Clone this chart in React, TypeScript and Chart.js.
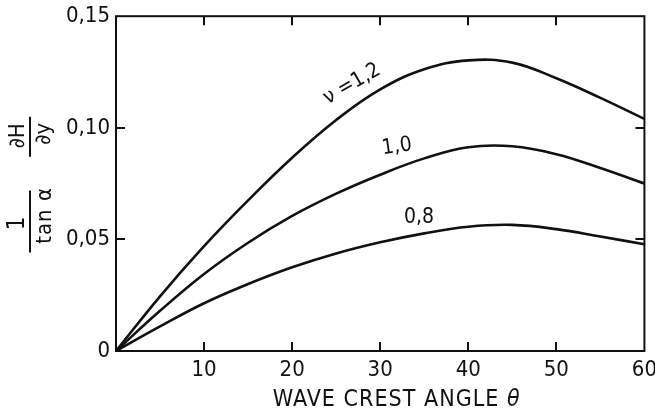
import React, { useEffect, useRef } from 'react';
import { Chart, registerables } from 'chart.js';

Chart.register(...registerables);

const angles = [0, 5, 10, 15, 20, 25, 30, 35, 40, 45, 50, 55, 60];
const nu12 = [0, 0.0245, 0.047, 0.0675, 0.0866, 0.1035, 0.1172, 0.1262, 0.1302, 0.1292, 0.1222, 0.1134, 0.104];
const nu10 = [0, 0.018, 0.0345, 0.0485, 0.0605, 0.0705, 0.079, 0.0863, 0.0913, 0.0917, 0.0882, 0.082, 0.075];
const nu08 = [0, 0.011, 0.0214, 0.03, 0.0375, 0.0437, 0.0487, 0.0527, 0.0557, 0.0565, 0.0546, 0.0513, 0.0478];

const xTicks = [0, 10, 20, 30, 40, 50, 60];
const xTickLabels = ['', '10', '20', '30', '40', '50', '60'];
const yTicks = [0, 0.05, 0.1, 0.15];
const yTickLabels = ['0', '0,05', '0,10', '0,15'];

const curveLabels = ['ν =1,2', '1,0', '0,8'];
const curveLabelX = [26.8, 31.9, 34.4];
const curveLabelY = [0.1196, 0.0915, 0.0598];
const curveLabelRot = [-30, -8, 0];

const xTitle = 'WAVE CREST ANGLE';
const xTitleSymbol = 'θ';

const FONT = '"Liberation Sans Narrow", "DejaVu Sans Condensed", "Roboto Condensed", sans-serif';
const INK = '#111';

const decor = {
  id: 'decor',
  afterDraw(chart: any) {
    const { ctx, chartArea: a, scales } = chart;
    const x = scales.x;
    const y = scales.y;
    ctx.save();
    ctx.strokeStyle = INK;
    ctx.fillStyle = INK;
    ctx.lineWidth = 2;
    ctx.strokeRect(a.left, a.top, a.right - a.left, a.bottom - a.top);
    const tl = 9;
    ctx.beginPath();
    xTicks.slice(1, -1).forEach((v) => {
      const px = Math.round(x.getPixelForValue(v));
      ctx.moveTo(px, a.bottom);
      ctx.lineTo(px, a.bottom - tl);
      ctx.moveTo(px, a.top);
      ctx.lineTo(px, a.top + tl);
    });
    yTicks.slice(1, -1).forEach((v) => {
      const py = Math.round(y.getPixelForValue(v));
      ctx.moveTo(a.left, py);
      ctx.lineTo(a.left + tl, py);
      ctx.moveTo(a.right, py);
      ctx.lineTo(a.right - tl, py);
    });
    ctx.stroke();

    // curve labels
    ctx.font = `21px ${FONT}`;
    ctx.textAlign = 'center';
    ctx.textBaseline = 'middle';
    curveLabels.forEach((t, i) => {
      const px = x.getPixelForValue(curveLabelX[i]);
      const py = y.getPixelForValue(curveLabelY[i]);
      ctx.save();
      ctx.translate(px, py);
      ctx.rotate((curveLabelRot[i] * Math.PI) / 180);
      ctx.fillText(t, 0, 0);
      ctx.restore();
    });

    // x title, spread to the width of the original lettering
    const targetW = 247;
    ctx.font = `23px ${FONT}`;
    (ctx as any).letterSpacing = '0px';
    const m1 = ctx.measureText(xTitle + ' ').width;
    ctx.font = `italic 23px ${FONT}`;
    const m2 = ctx.measureText(xTitleSymbol).width;
    const nChars = (xTitle + ' ').length;
    const sp = Math.max(0, (targetW - m1 - m2) / nChars);
    const w1 = m1 + sp * nChars;
    const cx = (a.left + a.right) / 2 + 16;
    const ty = a.bottom + 49;
    const startX = cx - targetW / 2;
    ctx.textAlign = 'left';
    ctx.font = `23px ${FONT}`;
    (ctx as any).letterSpacing = `${sp}px`;
    ctx.fillText(xTitle + ' ', startX, ty);
    (ctx as any).letterSpacing = '0px';
    ctx.font = `italic 23px ${FONT}`;
    ctx.fillText(xTitleSymbol, startX + w1, ty);

    // y title: two fractions, rotated
    ctx.font = `22px ${FONT}`;
    ctx.textAlign = 'center';
    ctx.lineWidth = 2;
    const barX = a.left - 86;
    const drawRot = (t: string, px: number, py: number) => {
      ctx.save();
      ctx.translate(px, py);
      ctx.rotate(-Math.PI / 2);
      ctx.fillText(t, 0, 0);
      ctx.restore();
    };
    // ∂H / ∂y
    const f1 = y.getPixelForValue(0.1) + 9;
    ctx.beginPath();
    ctx.moveTo(barX, f1 - 20);
    ctx.lineTo(barX, f1 + 20);
    ctx.stroke();
    drawRot('∂H', barX - 12, f1 - 1);
    drawRot('∂y', barX + 14, f1 - 3);
    // 1 / tan α
    const f2 = y.getPixelForValue(0.05) - 18;
    ctx.beginPath();
    ctx.moveTo(barX, f2 - 31);
    ctx.lineTo(barX, f2 + 31);
    ctx.stroke();
    ctx.font = `24px ${FONT}`;
    drawRot('1', barX - 12, f2 + 2);
    ctx.font = `22px ${FONT}`;
    (ctx as any).letterSpacing = '1px';
    drawRot('tan α', barX + 15, f2 - 6);
    (ctx as any).letterSpacing = '0px';
    ctx.restore();
  },
};

export default function App() {
  const ref = useRef<HTMLCanvasElement | null>(null);
  useEffect(() => {
    if (!ref.current) return;
    const mk = (data: number[]) => ({
      data: angles.map((a, i) => ({ x: a, y: data[i] })),
      borderColor: INK,
      borderWidth: 2.6,
      pointRadius: 0,
      fill: false,
      tension: 0.4,
    });
    const chart = new Chart(ref.current, {
      type: 'line',
      data: { datasets: [mk(nu12), mk(nu10), mk(nu08)] },
      options: {
        animation: false,
        responsive: true,
        maintainAspectRatio: false,
        layout: { padding: 0 },
        plugins: { legend: { display: false }, tooltip: { enabled: false } },
        scales: {
          x: {
            type: 'linear',
            min: 0,
            max: 60,
            afterBuildTicks: (s: any) => {
              s.ticks = xTicks.map((v) => ({ value: v }));
            },
            afterFit: (s: any) => {
              s.height = 63;
            },
            grid: { display: false, drawTicks: false },
            border: { display: false },
            ticks: {
              color: INK,
              padding: 6,
              maxRotation: 0,
              autoSkip: false,
              font: { family: FONT, size: 22 },
              callback: (_v: any, i: number) => xTickLabels[i],
            },
          },
          y: {
            type: 'linear',
            min: 0,
            max: 0.15,
            afterBuildTicks: (s: any) => {
              s.ticks = yTicks.map((v) => ({ value: v }));
            },
            afterFit: (s: any) => {
              s.width = 116;
            },
            grid: { display: false, drawTicks: false },
            border: { display: false },
            ticks: {
              color: INK,
              padding: 6,
              autoSkip: false,
              font: { family: FONT, size: 22 },
              callback: (_v: any, i: number) => yTickLabels[i],
            },
          },
        },
      },
      plugins: [decor],
    });
    return () => chart.destroy();
  }, []);
  return (
    <div style={{ position: 'fixed', left: 0, top: 0, width: 655, height: 414, background: '#fff', overflow: 'hidden' }}>
      <div style={{ position: 'absolute', left: 0, top: -3, width: 663, height: 417 }}>
        <canvas ref={ref} />
      </div>
    </div>
  );
}
